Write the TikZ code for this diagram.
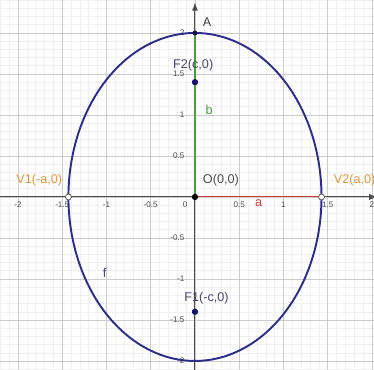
\documentclass[tikz,border=0pt]{standalone}
\usepackage{fontspec}
\setmainfont{Liberation Sans}
\definecolor{conicblue}{RGB}{45,45,140}
\definecolor{focusblue}{RGB}{20,20,110}
\definecolor{vertorange}{RGB}{225,150,60}
\definecolor{seggreen}{RGB}{70,160,60}
\definecolor{segred}{RGB}{205,60,60}
\definecolor{labelgray}{RGB}{70,70,110}
\begin{document}
\begin{tikzpicture}[x=1.77cm, y=1.64cm,
    tick/.style={font=\fontsize{4.6}{5}\selectfont, text=black!70},
    ptlabel/.style={font=\fontsize{7.2}{8}\selectfont},
    dot/.style={circle, fill=#1, inner sep=0pt, minimum size=3.6pt},
    hollow/.style={circle, draw=black!60, fill=white, inner sep=0pt,
        minimum size=3.4pt, line width=0.5pt}]
    \useasboundingbox (-2.203,-2.110) rectangle (2.023,2.402);

    % Grid
    \begin{scope}
        \clip (-2.203,-2.110) rectangle (2.023,2.402);
        \draw[black!6, line width=0.3pt, xstep=0.1, ystep=0.1]
            (-2.3,-2.2) grid (2.1,2.5);
        \draw[black!20, line width=0.5pt, xstep=0.5, ystep=0.5]
            (-2.5,-2.5) grid (2.5,2.5);
    \end{scope}

    % Axes
    \draw[black!70, line width=0.6pt, -latex] (-2.203,0) -- (2.06,0);
    \draw[black!70, line width=0.6pt, -latex] (0,-2.110) -- (0,2.37);

    % X-axis labels
    \foreach \x/\lbl in {-2/-2, -1.5/-1.5, -1/-1, -0.5/-0.5,
        0.5/0.5, 1/1, 1.5/1.5, 2/2}{
        \node[tick] at (\x,-0.09) {\lbl};
    }
    \node[tick] at (-0.11,-0.09) {0};

    % Y-axis labels
    \foreach \y/\lbl in {-2/-2, -1.5/-1.5, -1/-1, -0.5/-0.5,
        0.5/0.5, 1/1, 1.5/1.5, 2/2}{
        \node[tick, anchor=east] at (-0.05,\y) {\lbl};
    }

    % Points of the ellipse
    \coordinate (O) at (0,0);
    \coordinate (A) at (0,2);
    \coordinate (F2) at (0,1.4);
    \coordinate (F1) at (0,-1.4);
    \coordinate (V1) at (-1.43,0);
    \coordinate (V2) at (1.43,0);

    % Semi-axes
    \draw[seggreen, line width=0.9pt] (O) -- (A);
    \draw[segred, line width=0.6pt] (O) -- (V2);

    % Ellipse f
    \draw[conicblue, line width=1.1pt]
        plot[domain=0:360, samples=120, smooth] ({1.43*cos(\x)},{2*sin(\x)});

    % Point markers
    \node[dot=black] (pO) at (O) {};
    \node[dot=focusblue!80!black, minimum size=2.8pt] (pA) at (A) {};
    \node[dot=focusblue] (pF2) at (F2) {};
    \node[dot=focusblue] (pF1) at (F1) {};
    \node[hollow] (pV1) at (V1) {};
    \node[hollow] (pV2) at (V2) {};

    % Labels
    \node[ptlabel, text=black!75, anchor=west] (lA) at (0.02,2.13) {A};
    \node[ptlabel, text=labelgray] (lF2) at (-0.02,1.61) {F2(c,0)};
    \node[ptlabel, text=labelgray] (lF1) at (0.13,-1.23) {F1(-c,0)};
    \node[ptlabel, text=black!70, anchor=west] (lO) at (0.02,0.21) {O(0,0)};
    \node[ptlabel, text=vertorange] (lV1) at (-1.76,0.21) {V1(-a,0)};
    \node[ptlabel, text=vertorange, anchor=west] (lV2) at (1.50,0.21) {V2(a,0)};
    \node[ptlabel, text=seggreen] (lb) at (0.16,1.06) {b};
    \node[ptlabel, text=segred] (la) at (0.72,-0.07) {a};
    \node[ptlabel, text=labelgray] (lf) at (-1.02,-0.93) {f};

\end{tikzpicture}
\end{document}
